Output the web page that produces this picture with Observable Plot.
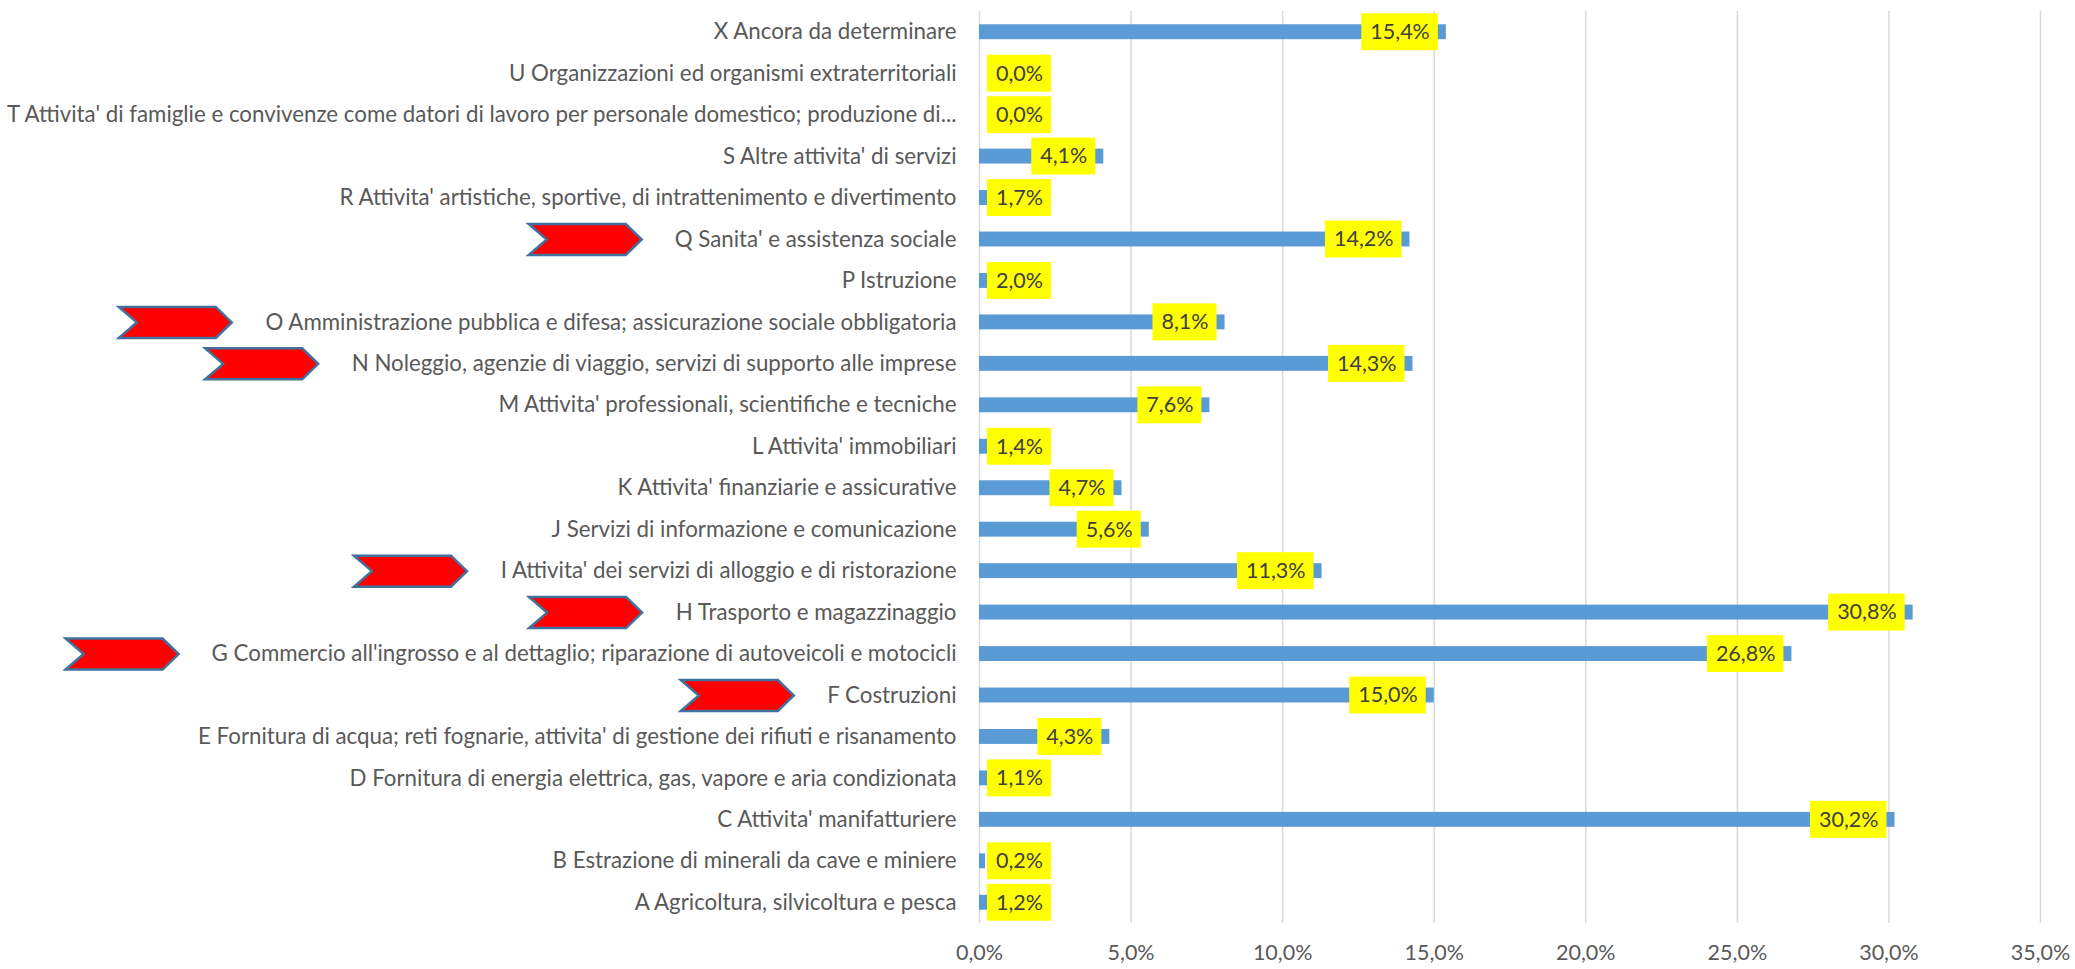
<!DOCTYPE html>
<html>
<head>
<meta charset="utf-8">
<script src="https://cdn.jsdelivr.net/npm/d3@7"></script>
<script src="https://cdn.jsdelivr.net/npm/@observablehq/plot@0.6"></script>
<style>
  html, body { margin: 0; padding: 0; background: #ffffff; }
  #chart svg { display: block; }
</style>
</head>
<body>
<div id="chart"></div>
<script>
// ---- data (top to bottom, as drawn) ----
const categories = [
  "X Ancora da determinare",
  "U Organizzazioni ed organismi extraterritoriali",
  "T Attivita' di famiglie e convivenze come datori di lavoro per personale domestico; produzione di...",
  "S Altre attivita' di servizi",
  "R Attivita' artistiche, sportive, di intrattenimento e divertimento",
  "Q Sanita' e assistenza sociale",
  "P Istruzione",
  "O Amministrazione pubblica e difesa; assicurazione sociale obbligatoria",
  "N Noleggio, agenzie di viaggio, servizi di supporto alle imprese",
  "M Attivita' professionali, scientifiche e tecniche",
  "L Attivita' immobiliari",
  "K Attivita' finanziarie e assicurative",
  "J Servizi di informazione e comunicazione",
  "I Attivita' dei servizi di alloggio e di ristorazione",
  "H Trasporto e magazzinaggio",
  "G Commercio all'ingrosso e al dettaglio; riparazione di autoveicoli e motocicli",
  "F Costruzioni",
  "E Fornitura di acqua; reti fognarie, attivita' di gestione dei rifiuti e risanamento",
  "D Fornitura di energia elettrica, gas, vapore e aria condizionata",
  "C Attivita' manifatturiere",
  "B Estrazione di minerali da cave e miniere",
  "A Agricoltura, silvicoltura e pesca"
];
const shares = [15.4, 0.0, 0.0, 4.1, 1.7, 14.2, 2.0, 8.1, 14.3, 7.6, 1.4, 4.7, 5.6, 11.3, 30.8, 26.8, 15.0, 4.3, 1.1, 30.2, 0.2, 1.2];
const xTicks = [0, 5, 10, 15, 20, 25, 30, 35];
const markedCodes = ["Q", "O", "N", "I", "H", "G", "F"];

// ---- layout / style ----
const W = 2075, H = 969;
const mL = 979, mR = 35, mT = 11, mB = 46;
const xMax = 35;
const FONT = "Lato, 'Open Sans', sans-serif";
const FS = 21.5;      // data labels and x ticks
const FSY = 22.3;     // category labels
const pxPerUnit = (W - mL - mR) / xMax;
const fmt = v => v.toFixed(1).replace(".", ",") + "%";

const ctx = document.createElement("canvas").getContext("2d");
const tw = (s, size) => { ctx.font = `${size}px Lato`; return ctx.measureText(s).width; };

const rows = categories.map((c, i) => {
  const label = fmt(shares[i]);
  const boxW = tw(label, FS) + 17;
  const right = Math.max(shares[i] - 8 / pxPerUnit, (8 + boxW) / pxPerUnit);
  const left = right - boxW / pxPerUnit;
  return {cat: c, share: shares[i], label, left, right, mid: (left + right) / 2};
});

const labelGap = 23, arrowGap = 33, arrowHalfW = 56.5;
const arrows = rows.filter(r => markedCodes.includes(r.cat[0])).map(r => {
  const textStartPx = -labelGap - tw(r.cat, FSY);
  return {cat: r.cat, ax: (textStartPx - arrowGap - arrowHalfW) / pxPerUnit};
});

const chevron = {
  draw(c) {
    c.moveTo(-56.5, -15.5);
    c.lineTo(40.5, -15.5);
    c.lineTo(56.5, 0);
    c.lineTo(40.5, 15.5);
    c.lineTo(-56.5, 15.5);
    c.lineTo(-38.5, 0);
    c.closePath();
  }
};

const chart = Plot.plot({
  width: W, height: H,
  marginLeft: mL, marginRight: mR, marginTop: mT, marginBottom: mB,
  style: {fontFamily: FONT, fontSize: FS + "px", background: "#ffffff"},
  x: {domain: [0, xMax]},
  y: {domain: categories, paddingInner: 0.64, paddingOuter: 0.32, round: false},
  marks: [
    Plot.gridX(xTicks, {stroke: "#D9D9D9", strokeOpacity: 1, strokeWidth: 1.5}),
    Plot.barX(rows, {x: "share", y: "cat", fill: "#5B9BD5"}),
    Plot.rect(rows, {x1: "left", x2: "right", y: "cat", fill: "#FFFF00", insetTop: -11, insetBottom: -11}),
    Plot.text(rows, {x: "mid", y: "cat", text: "label", fill: "#404040", fontSize: FS, fontFamily: FONT, textAnchor: "middle"}),
    Plot.axisX(xTicks, {tickSize: 0, tickPadding: 21, tickFormat: fmt, fill: "#595959", fontSize: FS, label: null}),
    Plot.axisY({tickSize: 0, tickPadding: labelGap, fill: "#595959", fontSize: FSY, label: null, textOverflow: null}),
    Plot.dot(arrows, {x: "ax", y: "cat", symbol: chevron, r: 10, fill: "#FF0000", stroke: "#41719C", strokeWidth: 2.5})
  ]
});
document.getElementById("chart").appendChild(chart);
</script>
</body>
</html>
